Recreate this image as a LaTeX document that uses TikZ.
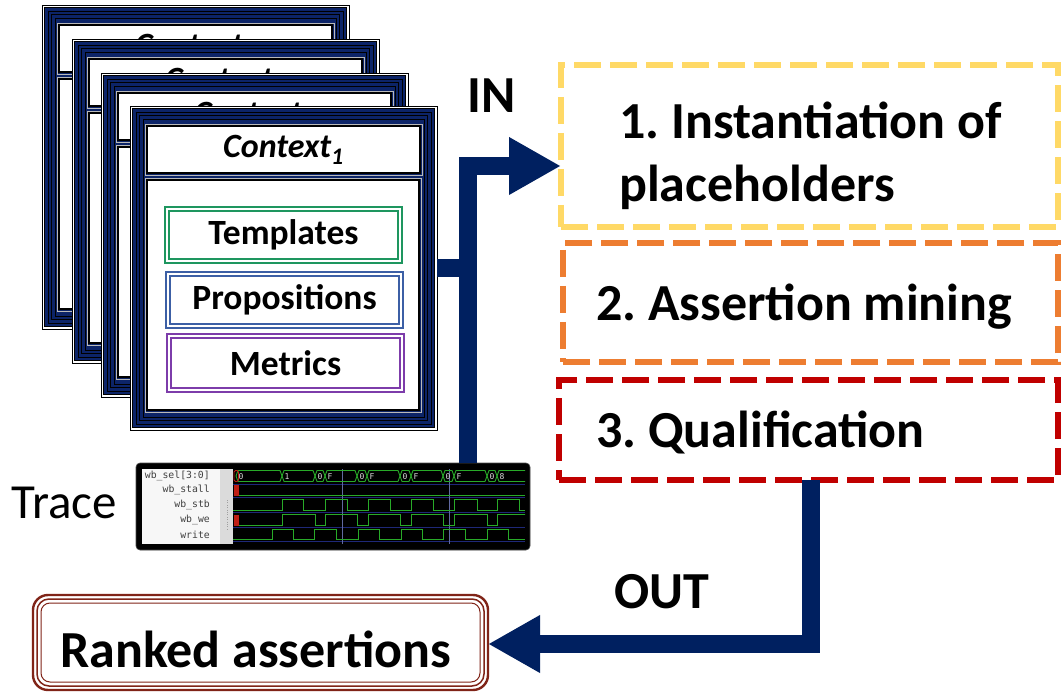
\documentclass[tikz,border=0pt]{standalone}
\usepackage{fontspec}
\setmainfont{Carlito}
\newfontfamily\wavemono{DejaVu Sans Mono}
\usetikzlibrary{arrows.meta}
\frenchspacing

\definecolor{flownavy}{RGB}{0,32,96}
\definecolor{cardnavy}{RGB}{12,36,104}
\definecolor{stepyellow}{RGB}{255,217,102}
\definecolor{steporange}{RGB}{237,125,49}
\definecolor{stepred}{RGB}{192,0,0}
\definecolor{rankred}{RGB}{128,36,24}
\definecolor{tplgreen}{RGB}{30,150,95}
\definecolor{propblue}{RGB}{60,95,165}
\definecolor{metpurple}{RGB}{125,60,170}
\definecolor{wavegreen}{RGB}{40,170,40}
\definecolor{rowblue}{RGB}{30,40,120}
\definecolor{markred}{RGB}{190,30,20}

\newcommand\biglabel{\fontsize{52}{63}\selectfont\bfseries}
\newcommand\cardfont{\fontsize{35.5}{40}\selectfont\bfseries}
\newcommand\ctxfont{\fontsize{34}{40}\selectfont\bfseries\itshape}

\tikzset{
  stepbox/.style={draw=#1, line width=6.5pt, dash pattern=on 27pt off 9pt,
    outer sep=0pt, inner sep=0pt, anchor=north west},
  steptext/.style={anchor=base west, inner sep=0pt, font=\biglabel},
  flowarrow/.style={draw=flownavy, line width=18pt,
    -{Triangle[width=54pt,length=52pt]}},
  flowbar/.style={draw=flownavy, line width=18pt},
  cardbase/.style={draw=black, line width=0.8pt, fill=white,
    minimum width=307pt, minimum height=324pt, anchor=north west,
    inner sep=0pt, outer sep=0pt},
  panel/.style={draw=black, line width=1.2pt, fill=white, inner sep=0pt,
    outer sep=0pt, anchor=north west},
  itembox/.style={draw=#1, line width=2.6pt, fill=white, minimum width=237pt,
    minimum height=56pt, anchor=north west, inner sep=0pt, outer sep=0pt,
    font=\cardfont},
  wave/.style={draw=wavegreen, line width=0.9pt},
  wavetxt/.style={inner sep=0pt, anchor=west, text=white!85!black,
    font=\wavemono\fontsize{8}{8}\selectfont},
  rowtxt/.style={inner sep=0pt, anchor=east, text=black!75,
    font=\wavemono\fontsize{9.8}{10}\selectfont},
}

% thin inner rule of a framed box, inset by #3
\newcommand\innerframe[3]{%
  \draw[#2] ([shift={(#3,#3)}]#1.north west) rectangle ([shift={(-#3,-#3)}]#1.south east);}

% frame of one context card: name, x, y, index
\newcommand\ctxcard[4]{%
\begin{scope}[shift={(#2,#3)}]
  \node[cardbase] (#1) at (0,0) {};
  \fill[cardnavy] (2.5,2.5) rectangle (304.5,321.5);
  \foreach \d/\w in {2.5/0.9, 6/0.6, 9.5/0.6, 13/0.9}
    \draw[black, line width=\w pt] (\d,\d) rectangle (307-\d,324-\d);
  \node[panel, minimum width=273pt, minimum height=47pt, font=\ctxfont]
    (#1-head) at (17,20) {Context\textsubscript{#4}};
  \node[panel, minimum width=272pt, minimum height=230pt] (#1-body) at (17,74) {};
  \innerframe{#1-head}{gray!55, line width=0.9pt}{-2}
  \innerframe{#1-body}{gray!55, line width=0.9pt}{-2}
\end{scope}}

\begin{document}
\begin{tikzpicture}[x=1pt, y=-1pt]
\useasboundingbox (0,0) rectangle (1062,692);
\fill[white] (0,0) rectangle (1062,692);

% stack of context cards, back to front
\ctxcard{card1}{42}{5}{4}
\ctxcard{card2}{72}{39}{3}
\ctxcard{card3}{101}{73}{2}
\ctxcard{card4}{130}{106}{1}

% contents of the front card
\node[itembox=tplgreen] (tpl) at (165,207) {Templates};
\innerframe{tpl}{tplgreen, line width=1.1pt}{4}
\node[itembox=propblue] (prop) at (166,272) {Propositions};
\innerframe{prop}{propblue, line width=1.1pt}{4}
\node[itembox=metpurple, minimum height=58pt] (met) at (167,334) {Metrics};
\innerframe{met}{metpurple, line width=1.1pt}{4}

% waveform trace
\node[fill=black, draw=black!70, line width=0.6pt, rounded corners=4pt,
  minimum width=394pt, minimum height=87pt, anchor=north west,
  inner sep=0pt, outer sep=0pt] (trace) at (136,463) {};
\fill[gray!6] (142,469) rectangle (220,544);
\fill[gray!28] (220,469) rectangle (233,544);
\draw[gray!75, line width=1pt, dash pattern=on 0.8pt off 1.6pt] (227,500) -- (227,531);
\node[rowtxt] (lab-sel) at (210,476) {wb\_sel[3:0]};
\node[rowtxt] (lab-stall) at (210,490) {wb\_stall};
\node[rowtxt] (lab-stb) at (210,505) {wb\_stb};
\node[rowtxt] (lab-we) at (210,520) {wb\_we};
\node[rowtxt] (lab-write) at (210,535) {write};
\begin{scope}
  \clip (233,469) rectangle (525,544);
  \foreach \y in {484,497,512,527,541}
    \draw[rowblue, line width=0.8pt] (233,\y) -- (525,\y);
  \foreach \x in {342,449}
    \draw[rowblue!70!white, line width=0.7pt] (\x,469) -- (\x,544);
  % bus values
  \foreach \a/\b/\v in {236/282/0, 282/315/1, 315/325/0, 325/357/F, 357/367/0,
      367/400/F, 400/411/0, 411/443/F, 443/454/0, 454/487/F, 487/497/0, 497/540/8} {
    \draw[wave] (\a,476) -- (\a+2,470.5) -- (\b-2,470.5) -- (\b,476)
      -- (\b-2,481.5) -- (\a+2,481.5) -- cycle;
    \node[wavetxt] (val\a) at (\a+2.5,476.5) {\v};
  }
  % wb_stall
  \draw[wave] (239,495.5) -- (525,495.5);
  % wb_stb
  \draw[wave] (233,510) \foreach \a/\b in {282/303,325/347,368/390,411/433,454/477,497/519}
    { -- (\a,510) -- (\a,499.5) -- (\b,499.5) -- (\b,510)} -- (525,510);
  % wb_we
  \draw[wave] (239,525) \foreach \a/\b in {282/315,325/357,368/400,411/443,454/487,497/535}
    { -- (\a,525) -- (\a,514.5) -- (\b,514.5) -- (\b,525)} -- (535,525);
  % write
  \draw[wave] (233,539.5) \foreach \a/\b in {272/293,314/336,358/379,401/422,443/465,487/508}
    { -- (\a,539.5) -- (\a,529.5) -- (\b,529.5) -- (\b,539.5)} -- (525,539.5);
  % start markers
  \draw[markred, line width=0.9pt, rounded corners=1.5pt] (234,470.5) rectangle (238.5,481.5);
  \fill[markred] (233.5,485) rectangle (239,496);
  \fill[markred] (233.5,515) rectangle (239,526);
\end{scope}
\node[anchor=base west, inner sep=0pt, font=\fontsize{49}{55}\selectfont]
  (tracelabel) at (11,518) {Trace};

% flow steps
\node[stepbox=stepyellow, minimum width=497pt, minimum height=162pt] (s1) at (561,65) {};
\node[stepbox=steporange, minimum width=495pt, minimum height=119pt] (s2) at (563,243) {};
\node[stepbox=stepred, minimum width=499pt, minimum height=100pt] (s3) at (559,380) {};
\node[steptext] (s1a) at (619,139) {1. Instantiation of};
\node[steptext] (s1b) at (619,202) {placeholders};
\node[steptext] (s2a) at (596,320) {2. Assertion mining};
\node[steptext] (s3a) at (596,447) {3. Qualification};

% result
\node[draw=rankred, line width=2.4pt, rounded corners=15pt, minimum width=455pt,
  minimum height=95pt, anchor=north west, inner sep=0pt, outer sep=0pt]
  (rank) at (33,595) {};
\draw[rankred, line width=1.5pt, rounded corners=12pt]
  ([shift={(4,4)}]rank.north west) rectangle ([shift={(-4,-4)}]rank.south east);
\draw[rankred, line width=1pt, rounded corners=9pt]
  ([shift={(8,8)}]rank.north west) rectangle ([shift={(-8,-8)}]rank.south east);
\node[steptext] (ranktext) at (60,667) {Ranked assertions};

% connectors
\coordinate (inbend) at (468,166);
\draw[flowarrow] (inbend |- trace.north) -- (inbend) -- (inbend -| s1.west);
\draw[flowbar] (card4.east) -- (card4.east -| inbend);
\node[steptext] (inlabel) at (467,113) {IN};

\coordinate (outbend) at (811,644);
\draw[flowarrow] (outbend |- s3.south) -- (outbend) -- (outbend -| rank.east);
\node[steptext] (outlabel) at (614,608) {OUT};
\end{tikzpicture}
\end{document}
